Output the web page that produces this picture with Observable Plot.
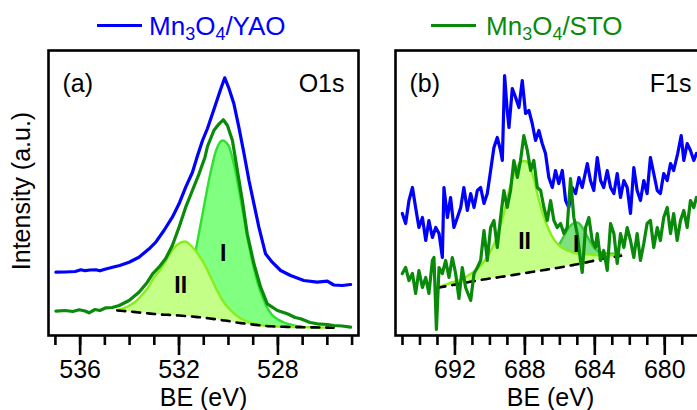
<!DOCTYPE html>
<html>
<head>
<meta charset="utf-8">
<script src="https://cdn.jsdelivr.net/npm/d3@7"></script>
<script src="https://cdn.jsdelivr.net/npm/@observablehq/plot@0.6"></script>
<style>
  html, body { margin: 0; padding: 0; background: #fff; }
  body { width: 697px; height: 410px; overflow: hidden; position: relative;
         font-family: Arial, "Liberation Sans", Helvetica, sans-serif; }
  .key { position: absolute; top: 13px; font-size: 26px; line-height: 26px; white-space: nowrap; }
  .key .swatch { position: absolute; top: 10.5px; height: 3.6px; width: 45px; }
  .key sub { font-size: 18px; vertical-align: -5px; line-height: 0; }
  #ylabel { position: absolute; left: 21px; top: 191px; font-size: 25px; line-height: 25px;
            white-space: nowrap; transform: translate(-50%, -50%) rotate(-90deg); }
  .panel { position: absolute; top: 0; }
</style>
</head>
<body>
<div class="key" style="left:97px;color:#0000ff"><span class="swatch" style="left:0;background:#0000ff"></span><span style="margin-left:52px">Mn<sub>3</sub>O<sub>4</sub>/YAO</span></div>
<div class="key" style="left:431px;color:#0a8a0a"><span class="swatch" style="left:0;background:#0a8a0a"></span><span style="margin-left:55px">Mn<sub>3</sub>O<sub>4</sub>/STO</span></div>
<div id="ylabel">Intensity (a.u.)</div>
<div id="panelA" class="panel" style="left:0;width:380px"></div>
<div id="panelB" class="panel" style="left:375px;width:345px"></div>
<script>
// ---------- O1s spectra: [binding energy (eV), intensity (a.u.)] ----------
const o1sYAO = [
  [536.98,63.3],[536.6,63.5],[536.2,64],[535.97,65.7],[535.8,64.8],[535.6,65.5],[535.37,65.7],
  [535.2,64.7],[535.0,66.3],[534.69,68.3],[534.4,70],[534.02,73.3],[533.62,78.3],[533.21,86.7],
  [532.94,93.3],[532.61,105],[532.27,118.3],[532.0,131.7],[531.73,148.3],[531.46,163],[531.25,180],
  [531.05,195],[530.85,207],[530.59,226],[530.32,246],[530.15,257.7],[529.98,247],[529.78,231.7],
  [529.58,208.3],[529.37,181.7],[529.17,155],[528.97,131.7],[528.77,108.3],[528.5,81.7],[528.23,73.3],
  [527.89,65],[527.49,60],[526.95,55],[526.41,53.3],[526.0,54.3],[525.74,50.5],[525.4,50],[525.06,51]
];
const o1sSTO = [
  [536.98,24.3],[536.6,25],[536.3,24],[536.04,25.7],[535.8,24.5],[535.64,22.7],[535.4,26],[535.2,25],
  [534.96,27.7],[534.7,28],[534.42,30],[534.02,35],[533.62,43.3],[533.28,53.3],[533.07,61.7],
  [532.81,68.3],[532.54,77],[532.27,90],[532.0,108.3],[531.73,128.3],[531.46,145],[531.19,161.7],
  [530.95,178.3],[530.85,189],[530.59,205],[530.38,211.7],[530.21,215.7],[530.04,210],[529.84,195],
  [529.64,165],[529.44,135],[529.24,101.7],[528.97,71.7],[528.7,48.3],[528.43,31.7],[528.02,25],
  [527.62,21.7],[527.3,18],[527.08,16.7],[526.7,13],[526.41,11.7],[526.0,11],[525.74,10],[525.4,9.5],[525.06,8.3]
];

// O1s fit (Mn3O4/STO): background and the two components, on one energy grid
const o1sFitBE = [534.5,534.25,534.0,533.75,533.5,533.25,533.0,532.75,532.5,532.25,532.0,531.75,531.5,
  531.25,531.0,530.75,530.5,530.25,530.0,529.75,529.5,529.25,529.0,528.75,528.5,528.25,528.0,527.75,
  527.5,527.25,527.0,526.75,526.5,526.25,526.0,525.75];
const o1sBackground = [25.0,24.5,24.0,23.4,22.7,22.1,21.5,21.0,20.7,20.4,20.0,19.5,19.0,18.4,17.8,17.0,
  16.2,15.3,14.5,13.3,12.4,11.6,10.9,10.2,9.6,9.2,8.9,8.7,8.5,8.4,8.3,8.2,8.1,8.0,7.9,7.8];
const o1sPeakI = [25.0,24.5,24.0,23.4,22.7,22.1,21.5,21.0,21.0,22.5,27,40,62,95,128,160,185,195,190,168,
  135,100,70,47,31,21,16,13,11,9.5,8.8,8.4,8.2,8.0,7.9,7.8];
const o1sPeakII = [25.5,27,30,34,40.5,48,58.5,66,76,86,92,94,89.5,82,72.5,60,47,35.5,27.5,21.5,17,14,12,
  10.5,9.8,9.3,8.9,8.7,8.5,8.4,8.3,8.2,8.1,8.0,7.9,7.8];

// ---------- F1s spectra ----------
const f1sYAO = [
  [695.01,122],[694.82,112],[694.63,135],[694.43,148],[694.25,128],[694.06,108],[693.86,118],[693.67,95],
  [693.49,115],[693.29,98],[693.10,108],[692.91,102],[692.72,78],[692.63,148],[692.43,118],[692.25,138],
  [692.06,108],[691.86,118],[691.67,128],[691.49,148],[691.29,125],[691.10,142],[690.91,128],[690.72,145],
  [690.53,148],[690.34,132],[690.15,142],[689.96,165],[689.77,188],[689.58,198],[689.39,185],[689.29,175],
  [689.16,260],[689.01,225],[688.91,208],[688.72,247],[688.53,238],[688.34,228],[688.15,255],[687.96,222],
  [687.77,225],[687.58,212],[687.39,195],[687.20,205],[687.01,192],[686.82,182],[686.63,158],[686.43,148],
  [686.25,165],[686.06,152],[685.86,165],[685.67,135],[685.49,128],[685.29,148],[685.10,142],[684.91,158],
  [684.72,148],[684.43,172],[684.25,155],[684.06,145],[683.86,178],[683.67,155],[683.49,148],[683.29,165],
  [683.10,148],[682.91,142],[682.72,162],[682.53,138],[682.34,155],[682.15,148],[681.96,122],[681.77,168],
  [681.58,145],[681.39,135],[681.20,155],[681.01,142],[680.82,178],[680.63,162],[680.43,145],[680.25,142],
  [680.06,162],[679.86,155],[679.67,172],[679.49,165],[679.26,182],[679.06,200],[678.91,175],[678.72,192],
  [678.53,185],[678.34,175],[678.19,182]
];
const f1sSTO = [
  [695.01,62],[694.82,68],[694.63,55],[694.43,62],[694.25,42],[694.06,65],[693.86,48],[693.67,58],
  [693.49,42],[693.29,75],[693.20,78],[693.06,6],[692.91,68],[692.72,62],[692.53,75],[692.34,58],
  [692.15,78],[691.96,62],[691.77,37],[691.58,68],[691.39,48],[691.10,35],[690.91,62],[690.72,68],
  [690.53,75],[690.34,105],[690.15,75],[689.96,108],[689.77,115],[689.58,88],[689.39,118],[689.20,145],
  [689.01,128],[688.82,145],[688.63,175],[688.43,158],[688.25,175],[688.06,200],[687.86,185],[687.67,165],
  [687.49,175],[687.29,148],[687.10,145],[686.91,128],[686.72,115],[686.53,135],[686.34,115],[686.15,108],
  [685.96,112],[685.77,102],[685.58,108],[685.39,157],[685.20,118],[685.01,102],[684.82,75],[684.72,63],
  [684.53,108],[684.34,118],[684.15,95],[683.96,88],[683.86,102],[683.67,75],[683.49,85],[683.29,65],
  [683.10,112],[682.91,102],[682.72,72],[682.53,102],[682.34,88],[682.15,108],[681.96,95],[681.77,78],
  [681.58,102],[681.39,75],[681.20,92],[681.01,112],[680.82,115],[680.63,88],[680.43,108],[680.25,95],
  [680.06,118],[679.86,128],[679.67,102],[679.49,122],[679.29,95],[679.10,115],[678.91,125],[678.72,108],
  [678.53,135],[678.34,128],[678.19,138]
];

// F1s fit (Mn3O4/STO)
const f1sFitBE = [693.0,692.75,692.5,692.25,692.0,691.75,691.5,691.25,691.0,690.75,690.5,690.25,690.0,
  689.75,689.5,689.25,689.0,688.75,688.5,688.25,688.0,687.75,687.5,687.25,687.0,686.75,686.5,686.25,686.0,
  685.75,685.5,685.25,685.0,684.75,684.5,684.25,684.0,683.75,683.5,683.25,683.0,682.75,682.5];
const f1sBackground = [47.7,48.5,49.3,50.1,50.9,51.7,52.5,53.3,54.1,54.9,55.6,56.3,57.0,57.6,58.2,58.9,
  59.6,60.3,61.0,61.7,62.4,63.1,63.8,64.5,65.2,65.9,66.6,67.3,68.0,68.8,69.6,70.4,71.3,72.2,73.1,74.0,75.0,
  76.0,77.0,77.7,78.3,79.0,79.7];
const f1sPeakII = [47.7,49.5,51,52.5,54,55.2,57.5,60,62.8,66,70.5,76,83,92,104.5,119,138,155,167,173.5,
  174.5,170,157,139,123,111,101,94,89.5,86.5,84.5,83,82,81.5,81.2,81,80.5,80.3,80,80.2,80.5,81,81.3];
const f1sPeakI = [47.7,49.5,51,52.5,54,55.2,57.5,60,62.8,66,70.5,76,83,92,104.5,119,138,155,167,173.5,
  174.5,170,157,139,123,111,101,94,92,100,107.5,112,113,109,101.5,93,86.5,84,82.5,82,81.7,81.5,81.5];

// component labels: [binding energy, intensity, text]
const o1sPeakLabels = [[531.93, 50, "II"], [530.21, 82, "I"]];
const f1sPeakLabels = [[688.02, 94, "II"], [685.07, 91, "I"]];

// axis ticks
const o1sMajorTicks = [536, 532, 528];
const o1sMinorTicks = [537, 536, 535, 534, 533, 532, 531, 530, 529, 528, 527, 526, 525];
const f1sMajorTicks = [692, 688, 684, 680];
const f1sMinorTicks = [695, 694, 693, 692, 691, 690, 689, 688, 687, 686, 685, 684, 683, 682, 681, 680, 679, 678];

const FONT = 'Arial, "Liberation Sans", Helvetica, sans-serif';
const BLUE = "#0000ff", GREEN = "#0a8a0a";

function fitTable(be, bg, p1, p2) {
  return be.map((e, i) => ({be: e, bg: bg[i], peakI: p1[i], peakII: p2[i]}));
}

function panel({width, marginLeft, marginRight, domain, yao, sto, fit, stackedI, colorsI, labels,
                majors, minors, tag, core}) {
  const fitCurve = "monotone-x";
  return Plot.plot({
    width, height: 410,
    marginLeft, marginRight, marginTop: 50, marginBottom: 75,
    style: {fontFamily: FONT, fontSize: "25px", color: "#000", background: "transparent", maxWidth: "none", overflow: "visible"},
    x: {domain, axis: null},
    y: {domain: [0, 285], axis: null},
    marks: [
      // component I
      Plot.areaY(fit, {x: "be", y1: stackedI ? "peakII" : "bg", y2: "peakI", fill: colorsI[0], curve: fitCurve}),
      Plot.line(fit, {x: "be", y: "peakI", stroke: colorsI[1], strokeWidth: 2.4, curve: fitCurve,
                      filter: d => d.peakI > (stackedI ? d.peakII : d.bg) + 0.4}),
      // component II
      Plot.areaY(fit, {x: "be", y1: "bg", y2: "peakII", fill: "#c4ff88", curve: fitCurve}),
      Plot.line(fit, {x: "be", y: "peakII", stroke: "#86ee1a", strokeWidth: 2.4, curve: fitCurve}),
      // background
      Plot.line(fit, {x: "be", y: "bg", stroke: "#000", strokeWidth: 2.6, strokeDasharray: "8,7", curve: fitCurve}),
      // measured spectra
      Plot.line(yao, {x: d => d[0], y: d => d[1], stroke: BLUE, strokeWidth: 3.2, strokeLinejoin: "round"}),
      Plot.line(sto, {x: d => d[0], y: d => d[1], stroke: GREEN, strokeWidth: 3.2, strokeLinejoin: "round"}),
      Plot.text(labels, {x: d => d[0], y: d => d[1], text: d => d[2], fontSize: 23, fontWeight: "bold",
                         fill: "#000", lineAnchor: "middle"}),
      Plot.frame({stroke: "#000", strokeWidth: 2.6}),
      Plot.text([tag], {frameAnchor: "top-left", dx: 14, dy: 33, textAnchor: "start", lineAnchor: "middle", fontSize: 25}),
      Plot.text([core], {frameAnchor: "top-right", dx: -14, dy: 33, textAnchor: "end", lineAnchor: "middle", fontSize: 25}),
      Plot.axisX({ticks: minors, tickSize: 10, strokeWidth: 2.6, tickFormat: () => "", label: null}),
      Plot.axisX({ticks: majors, tickSize: 20, tickPadding: 5, strokeWidth: 2.6, fontSize: 25,
                  tickFormat: d => String(d), label: null}),
      Plot.text(["BE (eV)"], {frameAnchor: "bottom", dy: 62, textAnchor: "middle", lineAnchor: "middle", fontSize: 25})
    ]
  });
}

document.getElementById("panelA").append(panel({
  width: 380, marginLeft: 48, marginRight: 22, domain: [537.28, 524.74],
  yao: o1sYAO, sto: o1sSTO,
  fit: fitTable(o1sFitBE, o1sBackground, o1sPeakI, o1sPeakII), stackedI: false,
  colorsI: ["#80ff80", "#30e030"], labels: o1sPeakLabels,
  majors: o1sMajorTicks, minors: o1sMinorTicks, tag: "(a)", core: "O1s"
}));

document.getElementById("panelB").append(panel({
  width: 345, marginLeft: 20, marginRight: 15, domain: [695.40, 677.67],
  yao: f1sYAO, sto: f1sSTO,
  fit: fitTable(f1sFitBE, f1sBackground, f1sPeakI, f1sPeakII), stackedI: true,
  colorsI: ["#7ee07e", "#3cc83c"], labels: f1sPeakLabels,
  majors: f1sMajorTicks, minors: f1sMinorTicks, tag: "(b)", core: "F1s"
}));
</script>
</body>
</html>
